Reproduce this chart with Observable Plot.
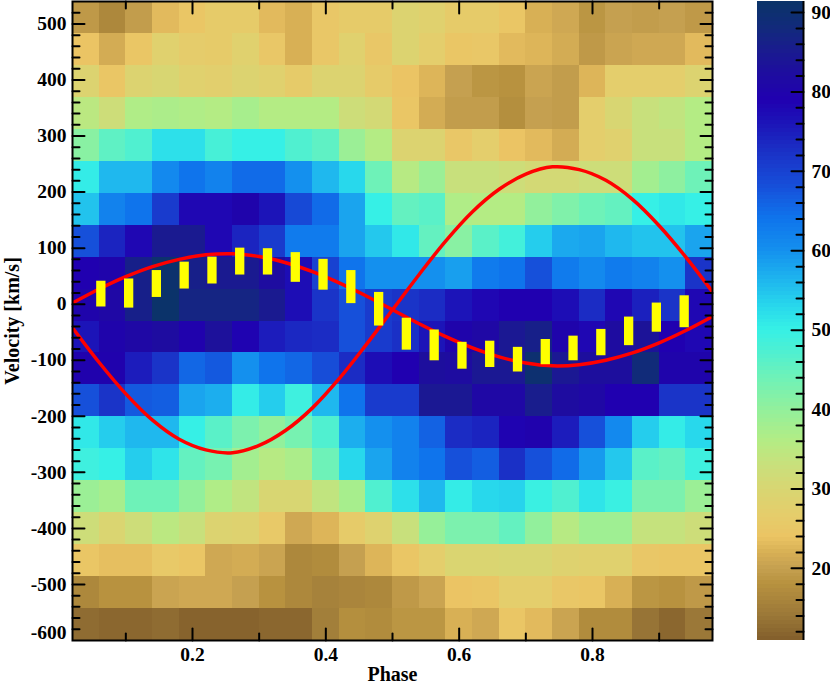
<!DOCTYPE html>
<html>
<head>
<meta charset="utf-8">
<style>
html,body{margin:0;padding:0;background:#fff;overflow:hidden}
#wrap{display:flex;width:830px;height:684px}
svg{display:block;flex:none}
</style>
<script src="https://cdn.jsdelivr.net/npm/d3@7"></script>
<script src="https://cdn.jsdelivr.net/npm/@observablehq/plot@0.6"></script>
</head>
<body>
<div id="wrap"></div>
<script>
// Bin lower edges
const phaseBins = [0.02,0.06,0.10,0.14,0.18,0.22,0.26,0.30,0.34,0.38,0.42,0.46,0.50,0.54,0.58,0.62,0.66,0.70,0.74,0.78,0.82,0.86,0.90,0.94];
const binWidthPhase = 0.04;
const velocityBins = [483,426,369,312,255,198,141,84,27,-30,-87,-144,-201,-258,-315,-372,-429,-486,-543,-600];
const binWidthVelocity = 57;

// Intensity, one row per velocity bin, top to bottom
const row01 = [19,16.5,19.5,23,24.5,26,26,23,22,25,26,26,29,28,26,26,24.5,22,21,18.5,20,19.5,20,19];
const row02 = [24,21.5,24.5,28,26.5,26,28,25,22,25,28,25,29,27,24.5,25,23,22.5,21.5,19,20.5,21,21,23];
const row03 = [29,24.5,29,30,28,27.5,29,28,26,29,29,26,24,22.5,20,18.5,18,20.5,19.5,22.5,27,27,27,29];
const row04 = [35,32,36.5,37,36.5,36,37.5,36,36,36,32,31,24.5,21.5,19.5,19.5,17.5,20,19.5,27,30,33,34,36];
const row05 = [41,45.5,47,52,52,48,50,50,47,45.5,39,36,29,29,25,27,24,23,21.5,27,28,33,33,36];
const row06 = [50.5,56,56,61,64,62,65,65,60,56,53,44,35.5,39,33,33,32,31,31,32,32,38,40.5,44];
const row07 = [55,62,64,71,78,78,80,76,69,65,58,50,45,46,36.5,36,36,40,42,44,45,50,51,50];
const row08 = [68,74,78,85,85,78,74,71,63,63,58,54.5,51,45,41,46,48.5,54,57.5,58,56,55,55,58];
const row09 = [79,80,86,90.5,86,85,85,82,77,70,64,60,60,60,58.5,63,64,68,63,61,63,62,60,72];
const row10 = [80,81,86,91,87,87,87,85,77,72,68,71,72,73,76,78,79,79,77,73,78,74.5,72,78];
const row11 = [76,80,81,82,79.5,83,78.5,75,73.5,73,68,71,72.5,76,80,81,84.5,86,80,78,82,83.5,79,78];
const row12 = [79.5,79.5,75,72,65.5,67,60,64,65.5,68.5,73,77,79,82.5,82,84.5,84.5,90,84.5,82.5,82.5,88.5,80,80];
const row13 = [68,72,67,66.5,58,57,50.5,54,49,56,64,71,71,84.5,84.5,81,81,85.5,82,81,79,79,72,72];
const row14 = [51,54,56,56,50,46,42.5,40,43,47,57,60,62,66,73,74,78.5,79.5,75,68,61,54,50.5,53];
const row15 = [49,50,54,51.5,45,43,38,35.5,37,44,53,58,62,64,68,66.5,72.5,68,65,59,54.5,46,45,49];
const row16 = [39,37.5,44,44,40,36.5,34,30,30,34,37.5,47,52,56,50.5,53,53.5,49.5,47,51.5,49.5,42.5,42.5,39];
const row17 = [32,29.5,32,35,33,29,28.5,25.5,21,22.5,26,28.5,33,39.5,42.5,42.5,45,40,35.5,38.5,38.5,33.5,33.5,32];
const row18 = [24.5,23.5,23.5,25.5,24.5,21,21.5,20.5,16.5,17,20,22.5,24.5,27,29.5,29.5,30,30,28.5,28,28,25,24.5,24.5];
const row19 = [16.5,18,18,20.5,21,21,20,18,16.5,15.5,16,16.5,19,20.5,24,24.5,27,27,25,24.5,22,18.5,18,19];
const row20 = [12.5,12,12,12.5,11.5,11.5,11.5,12,12,15,17.5,17,18.5,18.5,22,21,24.5,23,20.5,17,17,13.5,12,14];
const rows = [row01,row02,row03,row04,row05,row06,row07,row08,row09,row10,row11,row12,row13,row14,row15,row16,row17,row18,row19,row20];

// Colour map
const colorStops  = [11,14,18,20,22,24,27,30,33,36,40,44,47,50,53,56,60,64,68,72,76,79,82,85,88,91.4];
const colorValues = ["#835f2b","#9b7838","#b8923f","#c5a050","#d8b055","#ebc464","#e4ce6c","#d8d672","#c8e07c","#b4ec84","#92f09c","#6ef2b8","#50f0d0","#36f0e6","#28d8ec","#1fb8ee","#1490ee","#0f74ec","#1650da","#1a34c8","#1c14b8","#2000b0","#1e0ca0","#1a1a90","#122a7c","#0a3468"];

// Curves
const curvePhase = [0.02,0.06,0.10,0.14,0.18,0.22,0.26,0.30,0.34,0.38,0.42,0.46,0.50,0.54,0.58,0.62,0.66,0.70,0.74,0.78,0.82,0.86,0.90,0.94,0.98];
const curveA = [2,27,49,67,80,88,90,85,74,58,38,15,-10,-35,-58,-78,-94,-105,-110,-108,-100,-87,-69,-47,-22];
const curveB = [-42,-104,-160,-207,-241,-260,-265,-252,-225,-185,-133,-73,-10,53,113,165,205,232,245,240,221,187,140,84,22];

// Yellow velocity bars
const barPhase = [0.0625,0.1042,0.1458,0.1875,0.2292,0.2708,0.3125,0.3542,0.3958,0.4375,0.4792,0.5208,0.5625,0.6042,0.6458,0.6875,0.7292,0.7708,0.8125,0.8542,0.8958,0.9375];
const barTop    = [41,45,60,75,84,100,99,92,80,60,21,-25,-46,-68,-66,-77,-63,-57,-45,-23,2,15];
const barBottom = [-5,-7,12,27,36,52,52,39,25,1,-39,-82,-101,-116,-113,-121,-108,-101,-92,-74,-50,-42];

// Axis ticks
const xMajor = [0.2,0.4,0.6,0.8];
const xMinor = [0.1,0.3,0.5,0.7,0.9];
const yMajor = [500,400,300,200,100,0,-100,-200,-300,-400,-500];
const yMinor = [520,480,460,440,420,380,360,340,320,280,260,240,220,180,160,140,120,80,60,40,20,-20,-40,-60,-80,-120,-140,-160,-180,-220,-240,-260,-280,-320,-340,-360,-380,-420,-440,-460,-480,-520,-540,-560,-580];
const barMajor = [20,30,40,50,60,70,80,90];
const barMinor = [12,14,16,18,22,24,26,28,32,34,36,38,42,44,46,48,52,54,56,58,62,64,66,68,72,74,76,78,82,84,86,88];

const serif = "'Liberation Serif', serif";
const cells = rows.flatMap((r, i) => r.map((v, j) => ({p: phaseBins[j], v: velocityBins[i], z: v})));
const shapeLine = {draw(c, l) { c.moveTo(0, 0); c.lineTo(0, -l); }, r: 0};
const black = {stroke: "#000", strokeWidth: 2, shape: shapeLine, anchor: "start"};
const colorScale = {type: "linear", domain: colorStops, range: colorValues, clamp: true};
const tickText = {fontSize: 19.5, fontWeight: "bold", fill: "#000"};
const titleText = {fontSize: 20, fontWeight: "bold", fill: "#000"};

const main = Plot.plot({
  width: 750, height: 684,
  marginLeft: 72, marginRight: 38, marginTop: 1, marginBottom: 44,
  style: {background: "transparent", fontFamily: serif},
  x: {domain: [0.02, 0.98], axis: null},
  y: {domain: [-600, 540], axis: null},
  color: colorScale,
  marks: [
    Plot.rect(cells, {x1: "p", x2: d => d.p + binWidthPhase, y1: "v", y2: d => d.v + binWidthVelocity, fill: "z", shapeRendering: "crispEdges"}),
    Plot.line(curvePhase.map((p, i) => [p, curveA[i]]), {x: "0", y: "1", stroke: "#ff0000", strokeWidth: 3.5, curve: "catmull-rom", clip: "frame"}),
    Plot.line(curvePhase.map((p, i) => [p, curveB[i]]), {x: "0", y: "1", stroke: "#ff0000", strokeWidth: 3.5, curve: "catmull-rom", clip: "frame"}),
    Plot.ruleX(barPhase.map((p, i) => ({p, t: barTop[i], b: barBottom[i]})), {x: "p", y1: "b", y2: "t", stroke: "#ffff00", strokeWidth: 9.3}),
    Plot.vectorY(yMajor, {y: d => d, frameAnchor: "left", rotate: 90, length: 12, ...black}),
    Plot.vectorY(yMinor, {y: d => d, frameAnchor: "left", rotate: 90, length: 7, ...black}),
    Plot.vectorY(yMajor, {y: d => d, frameAnchor: "right", rotate: -90, length: 12, ...black}),
    Plot.vectorY(yMinor, {y: d => d, frameAnchor: "right", rotate: -90, length: 7, ...black}),
    Plot.vectorX(xMajor, {x: d => d, frameAnchor: "bottom", rotate: 0, length: 12, ...black}),
    Plot.vectorX(xMinor, {x: d => d, frameAnchor: "bottom", rotate: 0, length: 7, ...black}),
    Plot.vectorX(xMajor, {x: d => d, frameAnchor: "top", rotate: 180, length: 12, ...black}),
    Plot.vectorX(xMinor, {x: d => d, frameAnchor: "top", rotate: 180, length: 7, ...black}),
    Plot.frame({stroke: "#000", strokeWidth: 2}),
    Plot.text(yMajor, {y: d => d, text: d => String(d), frameAnchor: "left", dx: -6, textAnchor: "end", ...tickText}),
    Plot.text([-600], {y: d => d, text: d => String(d), frameAnchor: "left", dx: -6, dy: -8, textAnchor: "end", ...tickText}),
    Plot.text(xMajor, {x: d => d, text: d => d.toFixed(1), frameAnchor: "bottom", lineAnchor: "middle", dy: 14.5, ...tickText}),
    Plot.text(["Phase"], {frameAnchor: "bottom", lineAnchor: "middle", dx: 0, dy: 34, text: d => d, ...titleText}),
    Plot.text(["Velocity [km/s]"], {frameAnchor: "left", textAnchor: "middle", lineAnchor: "middle", dx: -60, rotate: -90, text: d => d, ...titleText})
  ]
});

const barLevels = d3.range(10.9, 91.4, 0.5);
const bar = Plot.plot({
  width: 80, height: 684,
  marginLeft: 7, marginRight: 27, marginTop: 1, marginBottom: 44,
  style: {background: "transparent", fontFamily: serif},
  y: {domain: [10.9, 91.4], axis: null},
  color: colorScale,
  marks: [
    Plot.rect(barLevels, {y1: d => d, y2: d => Math.min(d + 0.5, 91.4), fill: d => d + 0.25, shapeRendering: "crispEdges"}),
    Plot.ruleX([0], {frameAnchor: "right", stroke: "#000", strokeWidth: 2, x: null, y1: 10.9, y2: 91.4, dx: 23}),
    Plot.vectorY(barMajor, {y: d => d, frameAnchor: "right", rotate: -90, length: 12, ...black}),
    Plot.vectorY(barMinor, {y: d => d, frameAnchor: "right", rotate: -90, length: 7, ...black}),
    Plot.text(barMajor, {y: d => d, text: d => String(d), frameAnchor: "right", dx: 8, textAnchor: "start", ...tickText})
  ]
});

document.getElementById("wrap").append(main, bar);
</script>
</body>
</html>
